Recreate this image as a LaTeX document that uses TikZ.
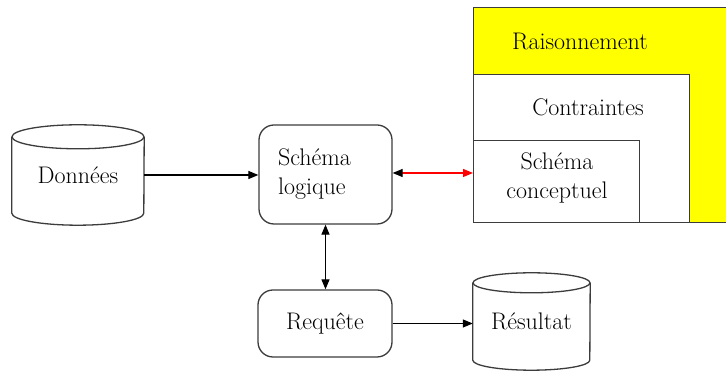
\documentclass[tikz,border=0pt]{standalone}
\usepackage{fontspec}
\usetikzlibrary{arrows.meta}
\definecolor{edge}{HTML}{3C3C3C}
\definecolor{ylw}{HTML}{FFFF00}
\tikzset{
  x=1pt, y=1pt,
  every node/.style={font=\fontsize{24}{29}\selectfont, text=black},
  boxline/.style={draw=edge, line width=1.3pt},
  roundbox/.style={boxline, rounded corners=15pt, inner sep=0pt},
  plainbox/.style={boxline, inner sep=0pt, anchor=south west},
  arr/.style={line width=1.2pt, draw=black, -{Triangle[length=10pt,width=8pt]}},
  dblarr/.style={line width=1.2pt, draw=black, {Triangle[length=10pt,width=8pt]}-{Triangle[length=10pt,width=8pt]}},
  redarr/.style={line width=1.2pt, draw=red, {Triangle[length=10pt,width=8pt,color=black]}-{Triangle[length=10pt,width=8pt,color=red]}},
  cylbody/.style={inner sep=0pt}
}
\begin{document}
\begin{tikzpicture}
\useasboundingbox (0,0) rectangle (726,371);
\fill[white] (0,0) rectangle (726,371);

% nested boxes
\node[plainbox, fill=ylw, minimum width=256, minimum height=215] (rais) at (473,148) {};
\node[plainbox, fill=white, minimum width=216, minimum height=148] (contr) at (473,148) {};
\node[plainbox, fill=white, minimum width=166, minimum height=82] (sc) at (473,148) {};
\node (raist) at (580,329) {Raisonnement};
\node (contrt) at (588,264) {Contraintes};
\node[align=center] (sct) at (557,193) {Schéma\\conceptuel};

% Données cylinder
\node[cylbody, minimum width=132, minimum height=76] (don) at (78,196) {Données};
\draw[boxline] (don.north) ellipse [x radius=66, y radius=12];
\draw[boxline] (don.north west) -- (don.south west) arc[start angle=180, end angle=360, x radius=66, y radius=12] -- (don.north east);

% Résultat cylinder
\node[cylbody, minimum width=117, minimum height=77] (res) at (531.5,49.5) {Résultat};
\draw[boxline] (res.north) ellipse [x radius=58.5, y radius=10];
\draw[boxline] (res.north west) -- (res.south west) arc[start angle=180, end angle=360, x radius=58.5, y radius=10] -- (res.north east);

% Schéma logique
\node[roundbox, minimum width=133, minimum height=99, text width=95, inner xsep=19pt, align=left] (sl) at (325.5,196.5) {Schéma\\logique};

% Requête
\node[roundbox, minimum width=134, minimum height=67] (req) at (325,47.5) {Requête};

% connectors
\draw[arr] (don.east) -- (don.east -| sl.west);
\draw[redarr] (sl.east |- 0,198) -- (sc.west |- 0,198);
\draw[dblarr] (sl.south) -- (sl.south |- req.north);
\draw[arr] (req.east) -- (req.east -| res.west);
\end{tikzpicture}
\end{document}
